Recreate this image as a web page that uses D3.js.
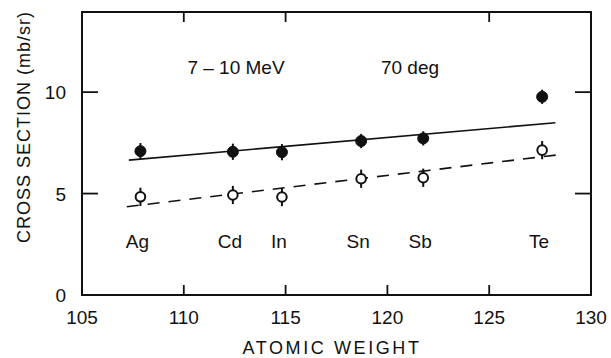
<!DOCTYPE html>
<html><head><meta charset="utf-8">
<script src="https://cdn.jsdelivr.net/npm/d3@7"></script>
<style>
html,body{margin:0;padding:0;background:#fff;}
text{font-family:"Liberation Sans","DejaVu Sans",sans-serif;fill:#111;}
</style></head>
<body><svg id="c" width="611" height="358"></svg>
<script>
const elements = ["Ag","Cd","In","Sn","Sb","Te"];
const atomicWeight = [107.87,112.41,114.82,118.71,121.76,127.6];
const filledValues = [7.09,7.06,7.04,7.59,7.72,9.77];
const openValues = [4.84,4.93,4.83,5.73,5.78,7.14];
const errFilled = [0.4,0.4,0.4,0.35,0.35,0.35];
const errOpen = [0.45,0.45,0.45,0.45,0.45,0.45];
const solidFit = [[107.3,6.65],[128.25,8.49]];
const dashedFit = [[107.2,4.35],[128.55,6.93]];
const xTicks = [105,110,115,120,125,130];
const xTopTicks = [110,115,125];
const yTicks = [0,5,10];
const yInnerTicks = [5,10];

const svg = d3.select("#c");
const L=82, R=591, T=12, B=295;
const x = d3.scaleLinear().domain([105,130]).range([L,R]);
const y = d3.scaleLinear().domain([0,13.95]).range([B,T]);

// frame
svg.append("rect").attr("x",L).attr("y",T).attr("width",R-L).attr("height",B-T)
  .attr("fill","none").attr("stroke","#111").attr("stroke-width",2);

// inward ticks
const g = svg.append("g").attr("stroke","#111").attr("stroke-width",1.8);
xTicks.slice(1,-1).forEach(v=>g.append("line").attr("x1",x(v)).attr("x2",x(v)).attr("y1",B).attr("y2",B-10));
xTopTicks.forEach(v=>g.append("line").attr("x1",x(v)).attr("x2",x(v)).attr("y1",T).attr("y2",T+10));
yInnerTicks.forEach(v=>{
  g.append("line").attr("x1",L).attr("x2",L+16).attr("y1",y(v)).attr("y2",y(v));
  g.append("line").attr("x1",R).attr("x2",R-16).attr("y1",y(v)).attr("y2",y(v));
});

// tick labels
svg.append("g").selectAll("text").data(xTicks).join("text")
  .attr("x",d=>x(d)).attr("y",324).attr("text-anchor","middle")
  .attr("font-size",19).text(d=>d);
svg.append("g").selectAll("text").data(yTicks).join("text")
  .attr("x",66).attr("y",d=>y(d)+7).attr("text-anchor","end")
  .attr("font-size",19).text(d=>d);

// axis titles
svg.append("text").attr("x",332).attr("y",354).attr("text-anchor","middle")
  .attr("font-size",18).attr("letter-spacing",2.6).text("ATOMIC WEIGHT");
svg.append("text").attr("transform","translate(30,127) rotate(-90)")
  .attr("text-anchor","middle").attr("font-size",18).attr("letter-spacing",1)
  .text("CROSS SECTION (mb/sr)");

// fit lines
const line = d3.line().x(d=>x(d[0])).y(d=>y(d[1]));
svg.append("path").attr("d",line(solidFit)).attr("fill","none").attr("stroke","#111").attr("stroke-width",1.6);
svg.append("path").attr("d",line(dashedFit)).attr("fill","none").attr("stroke","#111").attr("stroke-width",1.6)
  .attr("stroke-dasharray","12,9");

// error bars & markers
function series(vals, errs, filled){
  const gg = svg.append("g");
  vals.forEach((v,i)=>{
    gg.append("line").attr("x1",x(atomicWeight[i])).attr("x2",x(atomicWeight[i]))
      .attr("y1",y(v-errs[i])).attr("y2",y(v+errs[i])).attr("stroke","#111").attr("stroke-width",2);
    gg.append("circle").attr("cx",x(atomicWeight[i])).attr("cy",y(v)).attr("r",filled?5.5:4.8)
      .attr("fill",filled?"#111":"#fff").attr("stroke","#111").attr("stroke-width",filled?1:2);
  });
}
series(filledValues, errFilled, true);
series(openValues, errOpen, false);

// element labels
svg.append("g").selectAll("text").data(elements).join("text")
  .attr("x",(d,i)=>x(atomicWeight[i])-3).attr("y",248).attr("text-anchor","middle")
  .attr("font-size",19).text(d=>d);

// annotations
svg.append("text").attr("x",236).attr("y",74).attr("text-anchor","middle").attr("font-size",19).text("7 \u2013 10 MeV");
svg.append("text").attr("x",410).attr("y",74).attr("text-anchor","middle").attr("font-size",19).text("70 deg");
</script></body></html>
